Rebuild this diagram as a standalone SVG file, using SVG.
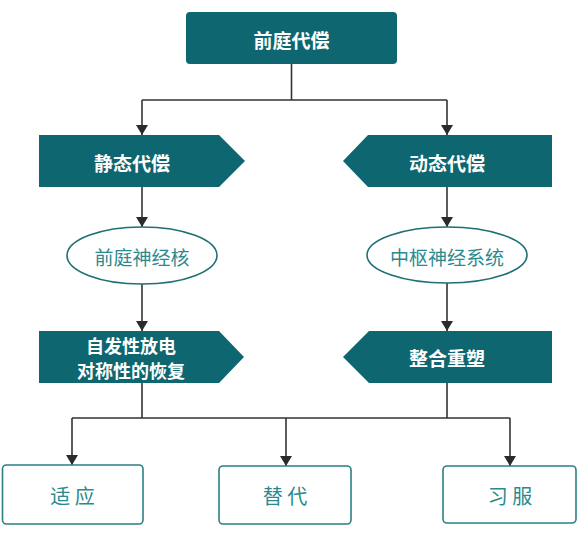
<svg xmlns="http://www.w3.org/2000/svg" width="588" height="541" viewBox="0 0 588 541">
<defs>
<marker id="ah" viewBox="0 0 10 12" refX="10" refY="6" markerWidth="10" markerHeight="12" markerUnits="userSpaceOnUse" orient="auto">
<path d="M0,0 L10,6 L0,12 Z" fill="#2b2b2b"/>
</marker>
<style>
.dark{fill:#0e6670;}
.wt{fill:#ffffff;font-family:"Noto Sans CJK SC","Noto Sans",sans-serif;font-weight:bold;font-size:19px;text-anchor:middle;dominant-baseline:central;}
.wt2{font-size:18px;}
.tt{fill:#2b8a8f;font-family:"Noto Sans CJK SC","Noto Sans",sans-serif;font-size:19px;text-anchor:middle;dominant-baseline:central;}
.bt{font-size:20px;}
.ov{fill:#ffffff;stroke:#1f6f75;stroke-width:1.6;}
.bx{fill:#ffffff;stroke:#2b7f85;stroke-width:1.6;}
.ln{fill:none;stroke:#333333;stroke-width:1.6;}
</style>
</defs>
<rect width="588" height="541" fill="#ffffff"/>
<g id="connectors">
<path class="ln" d="M291.5,64 V100 M142,100 H447"/>
<path class="ln" d="M142,100 V135" marker-end="url(#ah)"/>
<path class="ln" d="M447,100 V135" marker-end="url(#ah)"/>
<path class="ln" d="M142,187 V227" marker-end="url(#ah)"/>
<path class="ln" d="M447,187 V227" marker-end="url(#ah)"/>
<path class="ln" d="M142,284 V331" marker-end="url(#ah)"/>
<path class="ln" d="M447,283 V331" marker-end="url(#ah)"/>
<path class="ln" d="M142,383 V418 M447,383 V418 M72,418 H510"/>
<path class="ln" d="M72,418 V465" marker-end="url(#ah)"/>
<path class="ln" d="M286,418 V466" marker-end="url(#ah)"/>
<path class="ln" d="M510,418 V466" marker-end="url(#ah)"/>
</g>
<g id="root">
<rect class="dark" x="186" y="12" width="211" height="52" rx="4"/>
<text class="wt" x="291.5" y="39">前庭代偿</text>
</g>
<g id="static">
<path class="dark" d="M39,135 H219 L245,161 L219,187 H39 Z"/>
<text class="wt" x="132" y="162">静态代偿</text>
</g>
<g id="dynamic">
<path class="dark" d="M552,135 H368 L343,161 L368,187 H552 Z"/>
<text class="wt" x="447" y="162">动态代偿</text>
</g>
<g id="vestibular-nucleus">
<ellipse class="ov" cx="142" cy="255.5" rx="75" ry="28.5"/>
<text class="tt" x="142" y="256">前庭神经核</text>
</g>
<g id="cns">
<ellipse class="ov" cx="447" cy="255" rx="80" ry="28"/>
<text class="tt" x="447" y="256">中枢神经系统</text>
</g>
<g id="discharge">
<path class="dark" d="M39,331 H219 L244,357 L219,383 H39 Z"/>
<text class="wt wt2" x="131" y="345">自发性放电</text>
<text class="wt wt2" x="131" y="370">对称性的恢复</text>
</g>
<g id="reshape">
<path class="dark" d="M552,331 H369 L343,357 L369,383 H552 Z"/>
<text class="wt" x="447" y="357">整合重塑</text>
</g>
<g id="adapt">
<rect class="bx" x="2.5" y="465" width="140.5" height="59" rx="4"/>
<text class="tt bt" x="72.5" y="495">适 应</text>
</g>
<g id="substitute">
<rect class="bx" x="219" y="466" width="132" height="58" rx="4"/>
<text class="tt bt" x="285" y="495">替 代</text>
</g>
<g id="habituate">
<rect class="bx" x="443" y="466" width="133" height="57" rx="4"/>
<text class="tt bt" x="510" y="495">习 服</text>
</g>
</svg>
